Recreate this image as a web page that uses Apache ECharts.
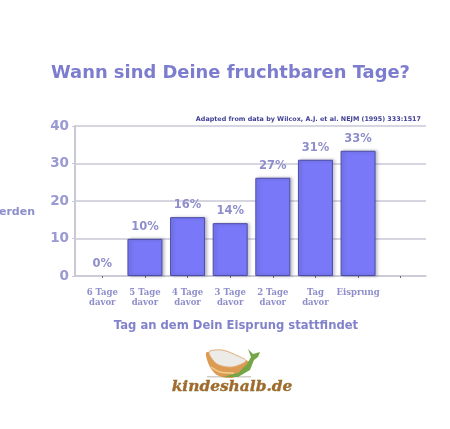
<!DOCTYPE html>
<html>
<head>
<meta charset="utf-8">
<style>
  html, body { margin: 0; padding: 0; background: #fff; }
  #main { width: 450px; height: 429px; filter: blur(0.4px); }
</style>
<script src="https://cdn.jsdelivr.net/npm/echarts@6/dist/echarts.min.js"></script>
</head>
<body>
<div id="main"></div>
<script>
var categories = ['6 Tage\ndavor', '5 Tage\ndavor', '4 Tage\ndavor', '3 Tage\ndavor', '2 Tage\ndavor', 'Tag\ndavor', 'Eisprung', ''];
var barValues = [0, 9.9, 15.7, 14.1, 26.2, 31, 33.4, null];
var barLabels = ['0%', '10%', '16%', '14%', '27%', '31%', '33%', ''];
var yTicks = [0, 10, 20, 30, 40];

var FONT = '"DejaVu Sans", Verdana, sans-serif';
var TEXT = '#8e8ecb';
var GRID = '#c9c9d6';

var myChart = echarts.init(document.getElementById('main'));

var option = {
    backgroundColor: '#fff',
    animation: false,
    title: [
        {
            text: 'Wann sind Deine fruchtbaren Tage?',
            left: 46, top: 59,
            textStyle: { color: '#7d7dcf', fontFamily: FONT, fontSize: 17.9, fontWeight: 'bold' }
        },
        {
            text: 'Adapted from data by Wilcox, A.J. et al. NEJM (1995) 333:1517',
            right: 24, top: 111,
            textStyle: { color: '#3f3f96', fontFamily: FONT, fontSize: 6.4, fontWeight: 'bold' }
        },
        {
            text: 'Tag an dem Dein Eisprung stattfindet',
            left: 231, top: 315, textAlign: 'center',
            textStyle: { color: '#8282cc', fontFamily: FONT, fontSize: 11.6, fontWeight: 'bold' }
        },
        {
            text: 'Wahrscheinlichkeit schwanger zu werden',
            right: 410, top: 202,
            textStyle: { color: '#8e8ecb', fontFamily: FONT, fontSize: 11, fontWeight: 'bold' }
        }
    ],
    // grid 0 holds the y scale and the long gridlines, grid 1 the bars
    grid: [
        { left: 75, right: 24, top: 126, height: 150 },
        { left: 81, right: 28, top: 126, height: 150 }
    ],
    xAxis: [
        {
            gridIndex: 0, type: 'value', min: 0, max: 1,
            axisLine: { show: true, lineStyle: { color: GRID, width: 1.5 } },
            axisTick: { show: false }, axisLabel: { show: false }, splitLine: { show: false }
        },
        {
            gridIndex: 1, type: 'category', data: categories,
            axisLine: { show: false },
            axisTick: { show: true, alignWithLabel: true, length: 2, lineStyle: { color: '#666688' } },
            axisLabel: {
                interval: 0, margin: 12, color: TEXT, lineHeight: 10,
                fontFamily: '"DejaVu Serif", serif', fontSize: 8.5, fontWeight: 'bold'
            }
        }
    ],
    yAxis: [
        {
            gridIndex: 0, type: 'value', min: 0, max: 40, interval: 10,
            axisLine: { show: true, lineStyle: { color: GRID, width: 2 } },
            axisTick: { show: true, length: 3, lineStyle: { color: GRID } },
            axisLabel: {
                margin: 6, color: '#9a9ad2', fontFamily: FONT, fontSize: 13.5, fontWeight: 'bold',
                formatter: function (v) { return yTicks.indexOf(v) >= 0 ? String(v) : ''; }
            },
            splitLine: { show: true, lineStyle: { color: GRID, width: 1.5 } }
        },
        {
            gridIndex: 1, type: 'value', min: 0, max: 40, interval: 10, show: false
        }
    ],
    series: [
        {
            type: 'bar',
            xAxisIndex: 1, yAxisIndex: 1,
            data: barValues.map(function (v) {
                // the empty first column has no visible outline
                return v === 0 ? { value: v, itemStyle: { borderWidth: 0, shadowBlur: 0, shadowColor: 'transparent' } } : v;
            }),
            barWidth: 35,
            itemStyle: {
                color: '#7878f8',
                borderColor: '#4c4ca6',
                borderWidth: 1,
                shadowColor: 'rgba(60,60,90,0.35)',
                shadowBlur: 3,
                shadowOffsetX: 2,
                shadowOffsetY: 0
            },
            label: {
                show: true, position: 'top', distance: 6,
                color: '#8e8ecb', fontFamily: FONT, fontSize: 11.5, fontWeight: 'bold',
                formatter: function (p) { return barLabels[p.dataIndex]; }
            }
        }
    ],
    graphic: [
        // logo: bowl, leaves and wordmark
        { type: 'rect', shape: { x: 207, y: 376, width: 44, height: 1.5 }, style: { fill: '#cfcfc8' } },
        { type: 'polygon', shape: { points: [[207, 352], [209, 365], [217, 375], [230, 378], [242, 374], [250, 362]], smooth: 0.3 },
          style: { fill: '#dc9a52' } },
        { type: 'polyline', shape: { points: [[211, 367], [220, 372], [234, 373]], smooth: 0.3 },
          style: { fill: 'none', stroke: '#f0cf90', lineWidth: 1.5 } },
        { type: 'polygon', shape: { points: [[209, 352], [222, 350], [238, 356], [246, 361], [232, 367], [217, 364]], smooth: 0.3 },
          style: { fill: '#ecebe8', stroke: '#e0ad78', lineWidth: 1 } },
        { type: 'polygon', shape: { points: [[222, 377], [238, 373], [247, 364], [251, 357], [248, 349], [253, 354], [260, 352], [258, 357], [254, 360], [250, 370], [238, 377]] },
          style: { fill: '#76a548' } },
        { type: 'text', x: 232, y: 387,
          style: {
              text: 'kindeshalb.de', align: 'center', verticalAlign: 'middle',
              fill: '#a4682f', stroke: '#7e8a3e', lineWidth: 0.4,
              font: 'italic bold 15.4px "DejaVu Serif", serif'
          } }
    ]
};

myChart.setOption(option);
</script>
</body>
</html>
